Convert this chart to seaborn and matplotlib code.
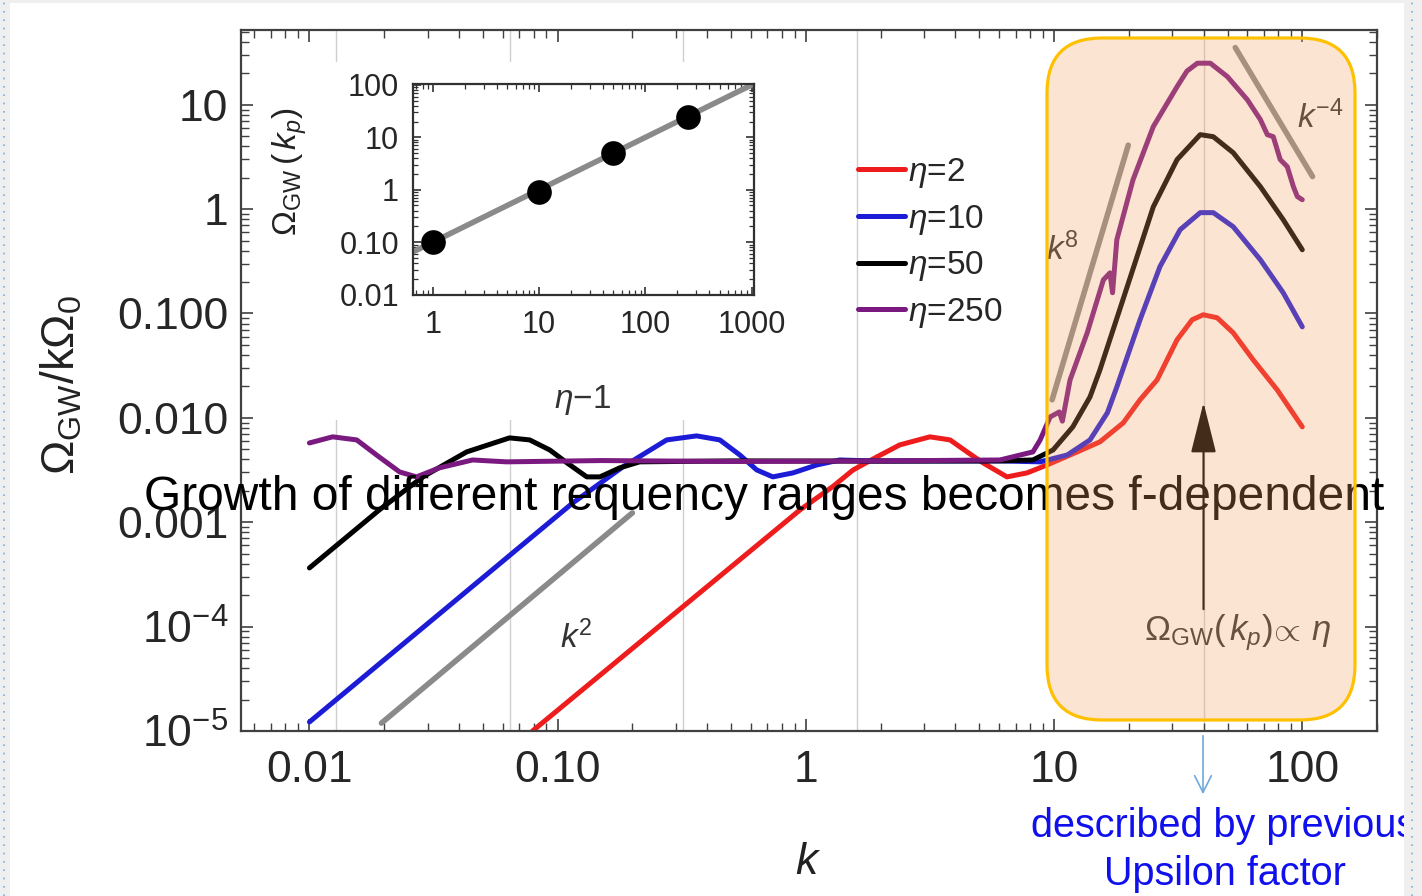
import matplotlib
matplotlib.use('Agg')
import numpy as np
import matplotlib.pyplot as plt
import seaborn as sns
from matplotlib.patches import FancyBboxPatch, Rectangle, FancyArrowPatch, ArrowStyle
from matplotlib.lines import Line2D
from matplotlib.ticker import FixedLocator, FixedFormatter, LogLocator, NullFormatter

# ---- data ----
k_eta2 = [0.0792, 0.946, 1.285, 1.55, 1.93, 2.39, 3.16, 3.81, 4.46, 5.17,
          6.46, 7.78, 9.37, 12.4, 15.3, 19.0, 22.2, 26.0, 31.3, 36.0, 39.9, 45.4,
          52.7, 63.4, 79.3, 100]
om_eta2 = [1.0e-5, 1.31e-3, 2.2e-3, 3.17e-3, 4.22e-3, 5.51e-3, 6.58e-3,
           6.15e-3, 4.72e-3, 3.71e-3, 2.72e-3, 2.97e-3, 3.54e-3, 4.72e-3, 5.89e-3,
           8.96e-3, 0.0149, 0.0231, 0.056, 0.0871, 0.0972, 0.091, 0.0653, 0.036,
           0.0185, 0.0082]

k_eta10 = [0.01, 0.115, 0.183, 0.275, 0.363, 0.450, 0.542, 0.634, 0.736,
           0.887, 1.107, 1.37, 1.81, 6.05, 8.79, 11.3, 13.96, 16.4, 17.9, 22.2, 26.7,
           32.2, 38.8, 43.8, 52.7, 67.8, 83.8, 100]
om_eta10 = [1.22e-5, 1.53e-3, 3.39e-3, 6.15e-3, 6.72e-3, 6.15e-3,
            4.41e-3, 3.17e-3, 2.72e-3, 2.97e-3, 3.54e-3, 3.95e-3, 3.87e-3, 3.87e-3,
            3.79e-3, 4.41e-3, 6.15e-3, 0.0112, 0.0198, 0.0871, 0.281, 0.635, 0.925,
            0.925, 0.678, 0.327, 0.158, 0.0745]

k_eta50 = [0.01, 0.0191, 0.0286, 0.043, 0.064, 0.0771, 0.0929, 0.109, 0.131,
           0.148, 0.178, 0.214, 0.5, 2.0, 6.05, 8.22, 9.91, 11.9, 13.96, 15.3, 19.7,
           25.1, 31.3, 38.8, 43.8, 52.7, 67.8, 83.8, 100]
om_eta50 = [3.65e-4, 1.31e-3, 2.72e-3, 4.72e-3, 6.43e-3, 6.15e-3, 4.93e-3,
            3.71e-3, 2.72e-3, 2.72e-3, 3.32e-3, 3.79e-3, 3.87e-3, 3.85e-3, 3.87e-3,
            3.95e-3, 4.93e-3, 8.2e-3, 0.0159, 0.0288, 0.180, 1.05, 2.98, 5.17, 4.94,
            3.47, 1.64, 0.792, 0.408]

k_eta250 = [0.01, 0.0124, 0.0155, 0.0191, 0.0231, 0.027, 0.0334, 0.0454, 0.0622, 0.15,
            0.5, 2.0, 6.05, 8.22, 8.79, 9.64, 10.5, 10.8, 11.6, 13.6, 15.8, 16.8, 17.2,
            17.9, 20.8, 25.1, 31.3, 34.3, 37.8, 42.6, 49.9, 60.0, 67.8, 72.3, 76.4,
            81.5, 87.0, 92.1, 95.5, 100]
om_eta250 = [5.75e-3, 6.58e-3, 6.15e-3, 4.22e-3, 3.03e-3, 2.72e-3, 3.32e-3, 3.95e-3,
             3.79e-3, 3.9e-3, 3.82e-3, 3.87e-3, 3.95e-3, 4.72e-3, 6.15e-3, 0.0102,
             0.0114, 0.0093, 0.0231, 0.0653, 0.21, 0.245, 0.158, 0.509, 1.91, 6.17,
             14.9, 21.0, 25.0, 25.0, 18.6, 11.2, 7.2, 5.17, 4.94, 2.98, 2.55, 1.64,
             1.32, 1.23]

series_labels = [r'$\eta$=2', r'$\eta$=10', r'$\eta$=50', r'$\eta$=250']
series_colors = ['#ee1c1c', '#1c1cd6', '#000000', '#7a1a80']

# power-law guide lines
k2_x, k2_y = [0.0195, 0.2], [1.19e-5, 1.23e-3]
k8_x, k8_y = [9.82, 19.9], [0.0149, 4.1]
km4_x, km4_y = [53.7, 110], [35.3, 2.05]

# vertical markers k_p / 5^n
kp_lines = [0.0128, 0.064, 0.32, 1.6, 40]

xticks = [0.01, 0.1, 1, 10, 100]
xticklabels = ['0.01', '0.10', '1', '10', '100']
yticks = [1e-5, 1e-4, 1e-3, 1e-2, 1e-1, 1, 10]
yticklabels = [r'$10^{-5}$', r'$10^{-4}$', '0.001', '0.010', '0.100', '1', '10']

# inset: peak amplitude vs eta
inset_eta = [1, 10, 50, 250]
inset_peak = [0.1, 0.9, 5.0, 24.0]
fit_eta = [0.65, 1050]
fit_peak = [0.065, 105]
inset_xticks = [1, 10, 100, 1000]
inset_xticklabels = ['1', '10', '100', '1000']
inset_yticks = [0.01, 0.1, 1, 10, 100]
inset_yticklabels = ['0.01', '0.10', '1', '10', '100']

# ---- style ----
sns.set_theme(style='ticks')
plt.rcParams['font.family'] = ['Liberation Sans', 'DejaVu Sans']
plt.rcParams['mathtext.fontset'] = 'custom'
plt.rcParams['mathtext.rm'] = 'Liberation Sans'
plt.rcParams['mathtext.it'] = 'Liberation Sans:italic'
plt.rcParams['mathtext.bf'] = 'Liberation Sans:bold'

W, H = 1422, 896
fig = plt.figure(figsize=(W / 100, H / 100), dpi=100)
fig.patch.set_facecolor('white')

def fx(px):
    return px / W

def fy(py):
    return 1 - py / H

ax = fig.add_axes([fx(241), fy(731), fx(1377) - fx(241), fy(30) - fy(731)])
ax.set_xscale('log')
ax.set_yscale('log')

for xv in kp_lines:
    ax.axvline(xv, color='#cfcfcf', lw=1.0, zorder=0.5)

for xs, ys in [(k2_x, k2_y), (k8_x, k8_y), (km4_x, km4_y)]:
    sns.lineplot(x=xs, y=ys, ax=ax, color='#8a8a8a', lw=4.0, estimator=None, sort=False)

curves = [(k_eta2, om_eta2), (k_eta10, om_eta10), (k_eta50, om_eta50), (k_eta250, om_eta250)]
for (xs, ys), lab, col in zip(curves, series_labels, series_colors):
    sns.lineplot(x=xs, y=ys, ax=ax, color=col, lw=3.6, label=lab, estimator=None, sort=False)

ax.set_xlim(0.0053, 200)
ax.set_ylim(1e-5, 52)
ax.set_xlabel('')
ax.set_ylabel('')

ax.xaxis.set_major_locator(FixedLocator(xticks))
ax.xaxis.set_major_formatter(FixedFormatter(xticklabels))
ax.yaxis.set_major_locator(FixedLocator(yticks))
ax.yaxis.set_major_formatter(FixedFormatter(yticklabels))
for a in (ax.xaxis, ax.yaxis):
    a.set_minor_locator(LogLocator(base=10, subs=np.arange(2, 10) * 1.0, numticks=100))
    a.set_minor_formatter(NullFormatter())
ax.tick_params(which='both', direction='in', top=True, right=True, color='#404040')
ax.tick_params(which='major', length=8.5, width=1.2)
ax.tick_params(which='minor', length=5.5, width=1.0)
ax.tick_params(axis='x', which='major', labelsize=32, pad=14)
ax.tick_params(axis='y', which='major', labelsize=32, pad=9)
for sp in ax.spines.values():
    sp.set_color('#404040')
    sp.set_linewidth(1.6)

leg = ax.legend(loc='upper left', bbox_to_anchor=(fx(858), fy(156)),
                bbox_transform=fig.transFigure, frameon=False, fontsize=24,
                handlelength=1.4, handletextpad=0.1, labelspacing=0.38,
                borderpad=0, borderaxespad=0)
for ln in leg.get_lines():
    ln.set_linewidth(3.6)

# annotations inside the plot
ax.text(0.119, 7.8e-5, r'$k^2$', fontsize=24, ha='center', va='center', color='#333333')
ax.text(10.8, 0.41, r'$k^8$', fontsize=24, ha='center', va='center', color='#333333')
ax.text(118, 7.5, r'$k^{-4}$', fontsize=24, ha='center', va='center', color='#333333')
ax.text(54.7, 8.7e-5, r'$\Omega_{\mathrm{GW}}(\,k_p)\!\propto\,\eta$', fontsize=25,
        ha='center', va='center', color='#333333')
arrow = FancyArrowPatch((40, 1.38e-4), (40, 0.0149),
                        arrowstyle=ArrowStyle('-|>', head_length=0.8, head_width=0.2),
                        mutation_scale=40, color='black', lw=1.5)
ax.add_patch(arrow)

# white area behind the inset
fig.add_artist(Rectangle((2.62, (H - 420) / 100), 5.38, 3.58, facecolor='white',
                         edgecolor='none', transform=fig.dpi_scale_trans, zorder=1))

# ---- inset ----
axin = fig.add_axes([fx(413), fy(295), fx(754) - fx(413), fy(84) - fy(295)])
axin.set_zorder(2)
axin.set_facecolor('white')
axin.set_xscale('log')
axin.set_yscale('log')
sns.lineplot(x=fit_eta, y=fit_peak, ax=axin, color='#8a8a8a', lw=4.0, estimator=None)
sns.scatterplot(x=inset_eta, y=inset_peak, ax=axin, color='black', s=270,
                edgecolor='black', zorder=3)
axin.set_xlim(0.65, 1050)
axin.set_ylim(0.0098, 104)
axin.set_xlabel('')
axin.set_ylabel('')
axin.xaxis.set_major_locator(FixedLocator(inset_xticks))
axin.xaxis.set_major_formatter(FixedFormatter(inset_xticklabels))
axin.yaxis.set_major_locator(FixedLocator(inset_yticks))
axin.yaxis.set_major_formatter(FixedFormatter(inset_yticklabels))
for a in (axin.xaxis, axin.yaxis):
    a.set_minor_locator(LogLocator(base=10, subs=np.arange(2, 10) * 1.0, numticks=100))
    a.set_minor_formatter(NullFormatter())
axin.tick_params(which='both', direction='in', top=True, right=True, color='#303030')
axin.tick_params(which='major', length=6, width=1.2, labelsize=22)
axin.tick_params(which='minor', length=3.5, width=0.9)
axin.tick_params(axis='x', pad=11)
axin.tick_params(axis='y', pad=10)
for sp in axin.spines.values():
    sp.set_color('#303030')
    sp.set_linewidth(1.6)

# ---- figure-level text ----
fig.text(fx(290), fy(172), r'$\Omega_{\mathrm{GW}}\,(\,k_p)$', rotation=90, fontsize=24,
         ha='center', va='center', color='#222222', zorder=3)
fig.text(fx(62), fy(385), r'$\Omega_{\mathrm{GW}}/\mathrm{k}\Omega_0$', rotation=90,
         fontsize=33, ha='center', va='center', color='#222222', zorder=3)
fig.text(fx(808), fy(862), r'$k$', fontsize=32, ha='center', va='center',
         color='#222222', zorder=3)
fig.text(fx(582), fy(400), r'$\eta$$-$1', fontsize=24, ha='center', va='center',
         color='#333333', zorder=3)
fig.text(fx(764), fy(510), 'Growth of different requency ranges becomes f-dependent',
         fontsize=34.5, ha='center', va='baseline', color='black', zorder=3)

# highlighted region
box = FancyBboxPatch((10.47, (H - 720) / 100), 3.08, 6.82,
                     boxstyle='round,pad=0,rounding_size=0.55',
                     facecolor=(247 / 255, 160 / 255, 100 / 255, 0.28),
                     edgecolor='#ffc000', lw=2.3, transform=fig.dpi_scale_trans, zorder=4)
fig.add_artist(box)

fig.add_artist(FancyArrowPatch((12.03, (H - 733) / 100), (12.03, (H - 797) / 100),
                               arrowstyle='->', mutation_scale=30, color='#6fa8dc',
                               lw=1.2, transform=fig.dpi_scale_trans, zorder=5))
fig.text(fx(1224), fy(837), 'described by previous', fontsize=28.5, ha='center',
         va='baseline', color='#1010ee', zorder=5)
fig.text(fx(1225), fy(885), 'Upsilon factor', fontsize=28.5, ha='center',
         va='baseline', color='#1010ee', zorder=5)

# slide frame
for x0, y0, w, h in [(0, 0, 0.10, 8.96), (14.04, 0, 0.18, 8.96), (0, 8.93, 14.22, 0.03)]:
    fig.add_artist(Rectangle((x0, y0), w, h, facecolor='#efefef', edgecolor='none',
                             transform=fig.dpi_scale_trans, zorder=6))
for xl in (0.04, 14.12):
    fig.add_artist(Line2D([xl, xl], [0, 8.96], color='#7aaee0', lw=1.2,
                          ls=(0, (1, 4)), transform=fig.dpi_scale_trans, zorder=7))

fig.savefig('out.png', dpi=100)
